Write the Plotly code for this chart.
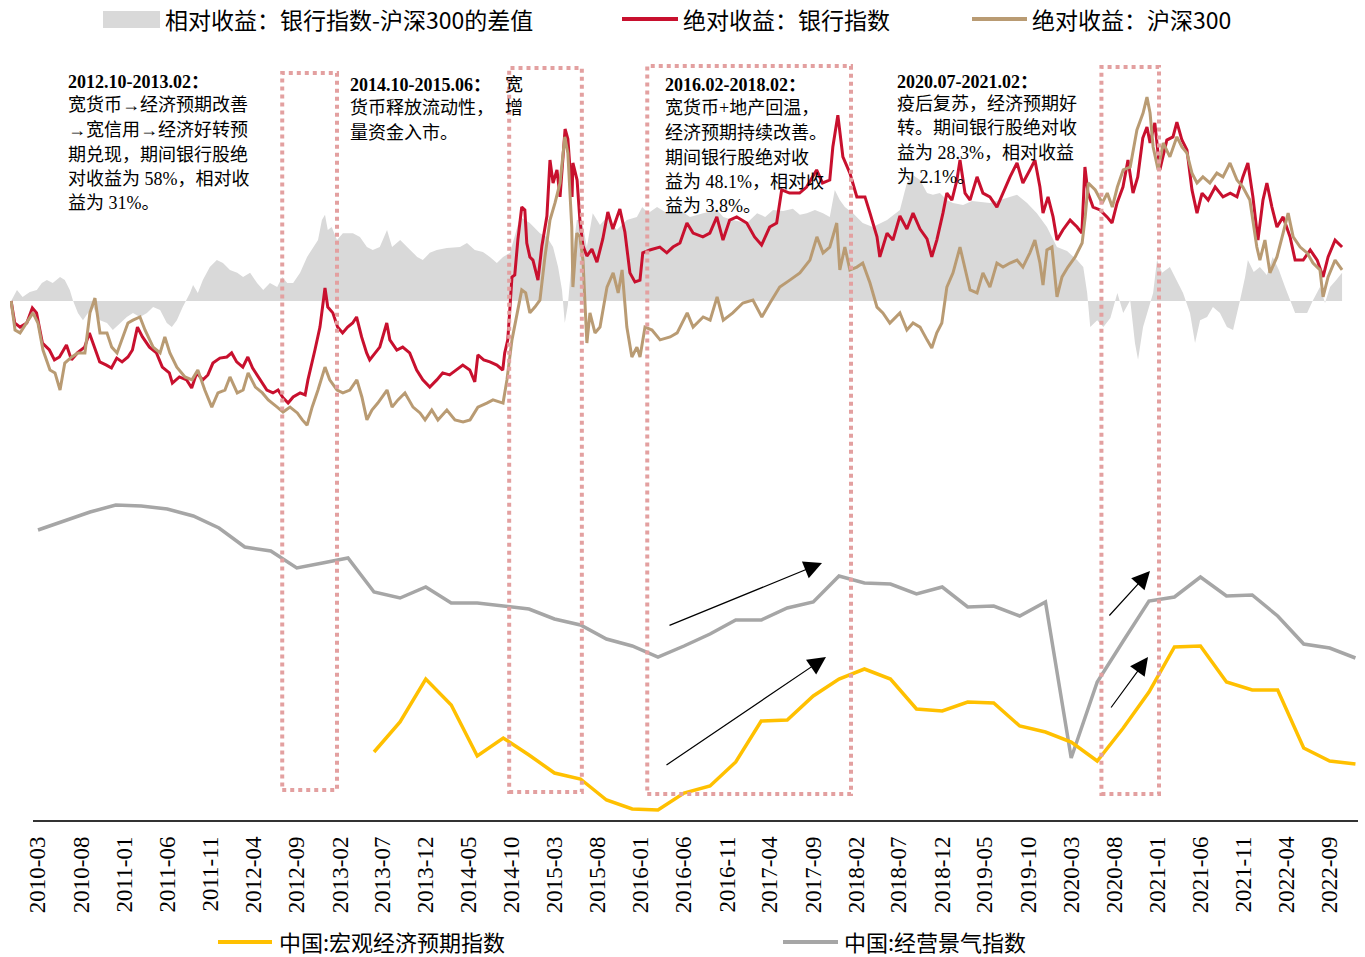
import plotly.graph_objects as go
import pandas as pd

# ---------------- daily cumulative returns (%) ----------------
bank_dates = ["2010-01-04","2010-01-17","2010-02-05","2010-03-01","2010-03-21","2010-04-05","2010-04-26","2010-05-21","2010-06-08","2010-06-26",
"2010-07-21","2010-08-08","2010-08-29","2010-09-24","2010-10-11","2010-10-29","2010-11-17","2010-12-11","2010-12-29","2011-01-17",
"2011-02-05","2011-02-26","2011-03-14","2011-04-01","2011-04-19","2011-05-14","2011-06-08","2011-06-29","2011-07-24","2011-08-04",
"2011-08-29","2011-09-24","2011-10-12","2011-10-30","2011-11-21","2011-12-09","2011-12-27","2012-01-21","2012-02-15","2012-03-03",
"2012-03-21","2012-04-12","2012-04-30","2012-05-17","2012-06-12","2012-07-07","2012-07-29","2012-08-16","2012-09-03","2012-09-21",
"2012-10-09","2012-11-03","2012-11-21","2012-12-01","2012-12-26","2013-01-13","2013-01-31","2013-02-10","2013-02-28","2013-03-17",
"2013-04-04","2013-04-22","2013-05-10","2013-05-24","2013-06-11","2013-06-29","2013-07-10","2013-07-28","2013-08-15","2013-09-09",
"2013-09-20","2013-10-15","2013-11-05","2013-11-30","2013-12-25","2014-01-16","2014-02-10","2014-03-07","2014-03-28","2014-04-22",
"2014-05-10","2014-06-08","2014-07-03","2014-07-21","2014-08-01","2014-08-22","2014-09-13","2014-10-08","2014-10-29","2014-11-05",
"2014-11-16","2014-12-01","2014-12-11","2014-12-22","2015-01-05","2015-01-16","2015-01-23","2015-02-03","2015-02-14","2015-03-04",
"2015-03-18","2015-04-05","2015-04-16","2015-04-27","2015-05-11","2015-05-22","2015-06-09","2015-06-19","2015-07-04","2015-07-07",
"2015-07-22","2015-08-01","2015-08-12","2015-08-26","2015-09-13","2015-10-01","2015-10-22","2015-11-09","2015-11-27","2015-12-22",
"2016-01-09","2016-01-27","2016-02-14","2016-03-03","2016-03-13","2016-04-07","2016-05-13","2016-06-07","2016-06-29","2016-07-24",
"2016-08-18","2016-09-09","2016-10-14","2016-11-08","2016-12-03","2016-12-25","2017-01-18","2017-02-12","2017-03-20","2017-04-17",
"2017-05-12","2017-06-10","2017-07-05","2017-07-23","2017-08-20","2017-09-25","2017-10-20","2017-11-25","2017-12-16","2018-01-11",
"2018-01-22","2018-02-09","2018-02-27","2018-03-24","2018-04-18","2018-05-17","2018-06-04","2018-06-29","2018-07-09","2018-08-04",
"2018-08-25","2018-09-19","2018-10-14","2018-11-05","2018-11-30","2018-12-25","2019-01-11","2019-01-29","2019-02-20","2019-03-06",
"2019-03-24","2019-04-11","2019-04-22","2019-05-10","2019-05-28","2019-06-22","2019-07-13","2019-08-07","2019-09-01","2019-09-23",
"2019-10-18","2019-11-12","2019-12-03","2019-12-28","2020-01-15","2020-02-02","2020-02-13","2020-03-02","2020-03-20","2020-04-03",
"2020-04-24","2020-05-20","2020-06-14","2020-07-01","2020-07-12","2020-07-23","2020-08-10","2020-09-04","2020-09-29","2020-10-17",
"2020-11-04","2020-11-25","2020-12-13","2020-12-31","2021-01-17","2021-02-04","2021-02-19","2021-03-02","2021-03-19","2021-04-06",
"2021-05-01","2021-05-23","2021-06-06","2021-06-24","2021-07-12","2021-07-30","2021-08-17","2021-09-04","2021-09-26","2021-10-21",
"2021-11-18","2021-12-14","2022-01-07","2022-01-28","2022-02-15","2022-03-05","2022-03-23","2022-04-10","2022-04-24","2022-05-12",
"2022-05-30","2022-06-21","2022-07-16","2022-08-03","2022-09-01","2022-09-26","2022-10-21","2022-11-11","2022-11-29","2022-12-24",
"2023-01-18"]
bank_ret = [0,-7.6,-9.0,-7.6,-2.4,-4.1,-14.5,-16.9,-20.3,-19.3,
-15.2,-20.3,-17.9,-15.9,-11.0,-15.9,-21.0,-22.1,-23.1,-19.7,
-21.0,-19.3,-16.9,-9.0,-12.4,-15.9,-17.9,-22.8,-24.8,-28.3,
-26.2,-27.2,-30.0,-24.8,-27.2,-25.5,-21.4,-19.7,-19.3,-17.9,
-21.0,-22.8,-19.3,-23.1,-27.2,-30.7,-31.7,-30.7,-33.4,-35.2,
-33.1,-31.7,-32.4,-27.2,-16.9,-9.0,4.5,-2.1,-4.1,-9.0,
-11.0,-9.0,-7.6,-5.5,-12.4,-17.9,-20.3,-17.9,-15.9,-7.6,
-13.4,-16.9,-15.9,-17.9,-23.8,-27.2,-29.7,-27.2,-24.8,-25.5,
-24.1,-22.1,-23.8,-27.9,-18.6,-20.3,-21.0,-22.1,-23.8,-17.9,
-13.4,8.3,9.0,21.0,32.4,31.4,20.0,15.2,14.1,7.2,
19.0,29.3,48.6,40.7,45.2,35.9,59.3,55.9,35.9,47.6,
41.7,27.9,19.0,15.5,17.9,13.4,21.4,30.7,24.8,31.7,
23.8,9.7,6.6,7.2,16.6,17.6,18.6,16.6,18.6,20.0,
26.9,23.4,22.1,23.4,29.0,21.0,27.9,29.0,26.9,22.1,
19.3,25.5,26.9,38.3,37.2,37.2,39.3,45.2,40.7,41.7,
53.1,64.1,49.7,44.1,35.9,35.9,30.3,22.1,15.2,23.4,
21.0,29.3,24.8,30.3,24.8,21.4,15.2,21.0,30.3,37.2,
34.8,41.7,48.6,37.2,34.8,42.8,37.2,35.9,32.4,37.2,
42.8,47.6,40.7,45.2,48.6,39.3,30.3,35.9,29.0,21.0,
24.5,27.9,25.5,23.4,46.2,37.2,32.4,31.4,29.0,26.9,
33.8,39.3,48.6,37.2,42.8,56.2,60.0,54.5,61.4,45.2,
55.5,56.6,61.7,55.5,52.1,38.3,30.3,37.2,34.8,39.3,
35.9,37.2,35.9,42.8,47.6,35.9,21.0,34.8,40.7,32.4,
25.5,29.0,22.1,14.1,14.1,17.6,14.1,8.3,15.2,21.0,
18.6]

hs300_dates = ["2010-01-04","2010-01-18","2010-02-05","2010-03-01","2010-03-23","2010-04-10","2010-04-28","2010-05-23","2010-06-10","2010-06-28",
"2010-07-15","2010-08-09","2010-08-31","2010-09-25","2010-10-13","2010-10-31","2010-11-18","2010-12-13","2010-12-30","2011-01-18",
"2011-02-08","2011-02-26","2011-03-16","2011-04-10","2011-04-28","2011-05-27","2011-06-21","2011-07-08","2011-07-26","2011-08-20",
"2011-09-18","2011-10-13","2011-11-03","2011-11-28","2011-12-23","2012-01-14","2012-02-08","2012-02-26","2012-03-23","2012-04-13",
"2012-05-01","2012-05-27","2012-06-21","2012-07-12","2012-08-13","2012-09-03","2012-09-28","2012-10-24","2012-11-11","2012-11-28",
"2012-12-16","2013-01-06","2013-01-31","2013-02-17","2013-03-15","2013-04-05","2013-04-30","2013-05-25","2013-06-12","2013-06-30",
"2013-07-18","2013-08-08","2013-09-10","2013-09-28","2013-10-19","2013-11-13","2013-12-12","2014-01-06","2014-01-24","2014-02-17",
"2014-03-11","2014-04-12","2014-05-11","2014-06-09","2014-07-04","2014-08-01","2014-09-02","2014-09-24","2014-10-30","2014-11-13",
"2014-12-01","2014-12-19","2015-01-05","2015-01-19","2015-02-03","2015-02-21","2015-03-11","2015-03-29","2015-04-16","2015-05-04",
"2015-05-22","2015-06-08","2015-06-19","2015-07-03","2015-07-07","2015-07-21","2015-08-01","2015-08-12","2015-08-26","2015-09-06",
"2015-09-24","2015-10-12","2015-11-06","2015-11-28","2015-12-16","2015-12-30","2016-01-16","2016-02-03","2016-02-21","2016-03-03",
"2016-03-21","2016-04-15","2016-05-14","2016-06-19","2016-07-14","2016-08-19","2016-09-09","2016-10-15","2016-11-09","2016-12-04",
"2016-12-26","2017-01-29","2017-03-06","2017-04-11","2017-05-13","2017-06-11","2017-07-16","2017-08-21","2017-09-26","2017-11-01",
"2017-11-26","2017-12-18","2018-01-11","2018-02-05","2018-02-16","2018-03-06","2018-03-24","2018-04-18","2018-05-09","2018-06-04",
"2018-06-29","2018-07-20","2018-08-14","2018-09-19","2018-10-14","2018-11-05","2018-11-30","2018-12-25","2019-01-11","2019-01-29",
"2019-02-16","2019-03-06","2019-03-28","2019-04-22","2019-05-10","2019-05-28","2019-06-22","2019-07-13","2019-08-07","2019-09-01",
"2019-09-23","2019-10-18","2019-11-12","2019-12-03","2019-12-28","2020-01-15","2020-02-02","2020-02-13","2020-02-27","2020-03-16",
"2020-04-03","2020-04-21","2020-05-12","2020-06-07","2020-07-02","2020-07-13","2020-07-24","2020-08-18","2020-09-12","2020-09-30",
"2020-10-18","2020-11-05","2020-11-26","2020-12-21","2021-01-14","2021-02-05","2021-02-19","2021-03-02","2021-03-13","2021-03-31",
"2021-04-18","2021-05-12","2021-06-06","2021-06-24","2021-07-12","2021-07-30","2021-08-17","2021-09-07","2021-10-02","2021-10-27",
"2021-11-18","2021-12-13","2022-01-07","2022-01-28","2022-02-22","2022-03-19","2022-03-30","2022-04-17","2022-05-05","2022-05-30",
"2022-06-21","2022-07-09","2022-07-27","2022-08-21","2022-09-15","2022-10-06","2022-10-31","2022-11-11","2022-11-29","2022-12-24",
"2023-01-18"]
hs300_ret = [0,-10.0,-11.0,-7.6,-4.1,-7.6,-16.9,-23.8,-24.8,-30.7,
-21.4,-19.3,-17.9,-17.9,-4.1,1.0,-11.0,-11.0,-15.9,-17.9,
-12.4,-7.6,-6.6,-5.5,-10.0,-15.9,-17.9,-12.4,-17.9,-22.8,
-26.2,-27.2,-23.8,-30.7,-36.6,-31.7,-30.7,-26.2,-31.7,-30.7,
-24.8,-29.7,-31.7,-34.1,-36.6,-38.3,-36.6,-38.6,-41.0,-42.8,
-36.6,-30.7,-22.8,-27.2,-30.7,-31.7,-30.7,-27.2,-33.1,-41.0,
-37.6,-35.2,-30.7,-36.6,-34.1,-31.7,-36.6,-38.6,-41.0,-37.6,
-41.0,-37.6,-41.0,-41.7,-41.0,-36.6,-35.2,-34.1,-35.2,-27.2,
-13.4,-4.1,3.8,2.8,-4.1,-2.1,0.3,15.2,27.9,33.8,
40.7,56.6,51.0,25.5,4.8,23.4,22.1,14.1,-14.5,-4.1,
-11.0,-9.0,4.8,9.7,2.8,10.7,-9.0,-19.3,-15.9,-19.3,
-9.0,-10.0,-13.4,-12.4,-11.0,-4.1,-9.0,-5.5,-6.6,1.4,
-6.6,-4.1,-0.7,0.3,-5.5,-0.7,4.8,7.2,9.7,14.1,
22.1,16.6,18.6,26.9,10.7,18.6,10.7,11.7,13.1,6.2,
-2.1,-4.1,-7.6,-4.1,-10.0,-7.6,-9.0,-13.4,-16.2,-11.0,
-7.6,4.8,9.7,18.6,11.7,3.8,2.8,9.7,4.8,13.1,
11.7,13.1,14.1,11.7,16.6,21.0,13.1,5.5,17.6,18.6,
1.4,8.3,11.7,15.2,20.0,29.0,40.7,38.3,33.8,37.2,
32.4,39.3,45.2,46.2,59.0,64.8,70.3,64.8,53.1,45.2,
54.5,49.7,56.6,53.1,51.0,44.1,40.7,42.8,40.7,44.1,
42.8,47.6,41.7,39.3,34.8,18.6,14.1,21.0,9.7,15.2,
23.4,30.3,22.1,18.6,16.6,13.1,10.7,1.4,8.3,14.1,
10.7]

rel_dates = ["2010-01-04","2010-01-25","2010-02-14","2010-03-12","2010-04-06","2010-04-24","2010-05-12","2010-06-02","2010-06-28","2010-07-15",
"2010-08-02","2010-08-13","2010-08-31","2010-09-18","2010-10-06","2010-10-24","2010-11-18","2010-12-13","2011-01-03","2011-01-28",
"2011-02-22","2011-03-16","2011-04-10","2011-05-05","2011-05-27","2011-06-21","2011-07-15","2011-08-02","2011-08-20","2011-09-10",
"2011-10-06","2011-10-17","2011-11-03","2011-11-21","2011-12-16","2012-01-10","2012-02-01","2012-02-26","2012-03-23","2012-04-13",
"2012-05-08","2012-06-02","2012-06-24","2012-07-18","2012-08-13","2012-08-31","2012-09-18","2012-10-09","2012-11-03","2012-11-28",
"2012-12-20","2013-01-06","2013-01-20","2013-01-31","2013-02-10","2013-02-24","2013-03-15","2013-04-05","2013-05-11","2013-06-05",
"2013-06-30","2013-07-21","2013-08-15","2013-09-10","2013-09-28","2013-10-27","2013-11-21","2013-12-27","2014-01-16","2014-02-10",
"2014-03-07","2014-04-12","2014-05-29","2014-06-23","2014-07-21","2014-08-19","2014-09-13","2014-10-08","2014-10-30","2014-11-24",
"2014-12-12","2014-12-30","2015-02-03","2015-03-11","2015-04-05","2015-04-27","2015-05-15","2015-05-29","2015-06-08","2015-06-19",
"2015-07-03","2015-07-21","2015-08-08","2015-08-26","2015-09-16","2015-10-12","2015-11-06","2015-12-11","2016-01-16","2016-02-21",
"2016-03-11","2016-04-01","2016-05-03","2016-06-08","2016-07-24","2016-08-29","2016-10-15","2016-12-04","2016-12-26","2017-01-29",
"2017-03-21","2017-04-26","2017-05-25","2017-06-22","2017-07-28","2017-09-01","2017-09-26","2017-10-21","2017-11-19","2017-12-18",
"2018-01-11","2018-01-29","2018-02-16","2018-03-06","2018-04-04","2018-05-09","2018-06-14","2018-08-04","2018-09-19","2018-10-14",
"2018-11-05","2018-11-30","2018-12-25","2019-01-15","2019-02-09","2019-03-06","2019-03-28","2019-05-03","2019-06-04","2019-07-03",
"2019-08-07","2019-09-12","2019-10-18","2019-11-12","2019-12-18","2020-01-22","2020-02-27","2020-04-03","2020-05-09","2020-06-14",
"2020-07-06","2020-07-20","2020-07-31","2020-08-25","2020-09-16","2020-10-11","2020-11-05","2020-11-26","2020-12-21","2021-01-07",
"2021-01-18","2021-02-05","2021-02-23","2021-03-13","2021-03-27","2021-04-14","2021-05-12","2021-06-06","2021-06-28","2021-07-23",
"2021-08-10","2021-08-28","2021-09-22","2021-10-13","2021-11-07","2021-12-02","2021-12-24","2022-01-18","2022-02-05","2022-02-15",
"2022-03-08","2022-03-30","2022-04-24","2022-05-15","2022-06-06","2022-06-28","2022-07-16","2022-08-03","2022-08-24","2022-09-15",
"2022-10-06","2022-10-31","2022-11-18","2022-12-06","2022-12-28","2023-01-18"]
rel_ret = [0,3.8,1.4,3.1,3.8,6.2,7.2,6.2,8.3,7.2,
3.8,0.3,-4.1,-6.6,-4.1,-2.1,-6.6,-7.6,-10.0,-7.6,
-5.5,-4.1,-5.5,-4.1,-2.1,-3.1,-7.6,-9.0,-6.6,-2.1,
2.8,5.5,2.8,7.2,11.7,14.1,13.1,10.7,9.7,8.3,
9.7,6.2,3.8,6.2,4.8,8.3,6.2,6.2,9.7,15.2,
18.6,21.0,27.9,29.7,24.5,25.5,21.0,23.4,23.4,22.1,
18.6,17.6,18.6,24.5,18.6,21.0,18.6,15.2,14.1,16.6,
17.6,18.3,18.6,20.0,17.6,16.9,15.2,13.1,15.2,16.6,
22.8,29.0,26.9,23.4,22.1,18.6,11.7,3.8,-7.6,-1.4,
14.1,27.9,27.9,18.6,30.3,26.2,29.0,24.5,27.9,29.0,
32.4,30.3,32.4,30.3,31.4,29.0,30.3,31.4,29.0,27.9,
26.9,30.3,29.0,31.4,31.0,31.8,29.7,30.3,31.4,30.3,
29.0,38.3,34.8,32.4,30.3,26.9,25.5,27.9,31.4,40.7,
43.4,41.7,37.2,36.6,37.2,34.8,33.8,33.1,34.5,34.1,
33.8,34.8,35.9,36.6,33.8,30.3,25.5,18.6,17.2,14.1,
11.7,2.8,-9.0,-6.6,-9.0,-5.9,2.8,-4.1,0.3,-14.5,
-20.3,-9.0,-3.1,2.8,14.1,9.7,11.7,7.2,2.8,-4.1,
-14.5,-6.6,-5.5,-2.1,-4.1,-9.0,-10.0,0.3,8.3,14.1,
10.0,11.7,9.0,15.2,10.7,4.8,0.3,-4.1,-4.1,-4.1,
0.3,4.8,-0.7,4.8,7.2,9.7]

# ---------------- quarterly indices ----------------
climate_start = "2010-03-01"
climate_idx = [135.0,136.8,138.6,140.0, 139.8,139.2,137.8,135.4, 131.6,130.8,127.4,128.4,
               129.4,122.6,121.4,123.6, 120.4,120.4,119.8,119.2, 117.2,116.0,113.2,111.8,
               109.6,111.8,114.2,117.0, 117.0,119.4,120.6,125.8, 124.4,124.2,122.2,123.6,
               119.6,119.8,117.8,120.6, 89.4,104.6,112.8,120.8, 121.6,125.6,121.8,122.0,
               117.8,112.2,111.4,109.4]
expect_start = "2013-06-01"
expect_idx = [99.4,102.4,106.7, 104.1,99.0,100.8,99.1, 97.3,96.7,94.6,93.7,
              93.6,95.3,96.0,98.4, 102.5,102.6,105.0,106.7, 107.7,106.7,103.7,103.5,
              104.4,104.3,102.0,101.4, 100.4,98.5,101.8,105.4, 109.9,110.0,106.4,105.6,
              105.6,99.8,98.5,98.2]

tick_labels = ["2010-03","2010-08","2011-01","2011-06","2011-11","2012-04","2012-09","2013-02",
               "2013-07","2013-12","2014-05","2014-10","2015-03","2015-08","2016-01","2016-06",
               "2016-11","2017-04","2017-09","2018-02","2018-07","2018-12","2019-05","2019-10",
               "2020-03","2020-08","2021-01","2021-06","2021-11","2022-04","2022-09"]

# highlighted periods (top, daily axis)
periods = [("2012-08-31", "2013-03-15"), ("2014-11-21", "2015-08-08"),
           ("2016-03-29", "2018-03-28"), ("2020-09-09", "2021-04-03")]

# ---------------- geometry ----------------
W, H = 1365, 957
ML, MR, MT, MB = 10, 7, 45, 136
PW, PH = W - ML - MR, H - MT - MB
BOT = H - MB


def px(x):
    return (x - ML) / PW


def py(y):
    return (BOT - y) / PH


ZERO_PX, PX_PER_PCT = 301, 2.9
top_range = [(ZERO_PX - BOT) / PX_PER_PCT, (ZERO_PX - MT) / PX_PER_PCT]
clim_range = [140 - (BOT - 505) * 0.2, 140 + (505 - MT) * 0.2]
exp_range = [110 - (BOT - 646) * 0.1, 110 + (646 - MT) * 0.1]

RED = "#C8102E"
TAN = "#B99B73"
GREYFILL = "#D9D9D9"
GREYLINE = "#A6A6A6"
YELLOW = "#FFC000"
BOX = "#E3A0A0"
SERIF = "Liberation Serif, Noto Sans CJK SC, serif"
CJK = "Noto Sans CJK SC, sans-serif"

climate_dates = pd.date_range(climate_start, periods=len(climate_idx), freq="3MS").strftime("%Y-%m-%d").tolist()
expect_dates = pd.date_range(expect_start, periods=len(expect_idx), freq="3MS").strftime("%Y-%m-%d").tolist()
tick_vals = pd.to_datetime(tick_labels, format="%Y-%m").strftime("%Y-%m-%d").tolist()

fig = go.Figure()
# bottom (quarterly) series on the base x axis
fig.add_trace(go.Scatter(x=climate_dates, y=climate_idx, xaxis="x", yaxis="y", mode="lines",
                         line=dict(color=GREYLINE, width=3.5), name="中国:经营景气指数", showlegend=False))
fig.add_trace(go.Scatter(x=expect_dates, y=expect_idx, xaxis="x", yaxis="y3", mode="lines",
                         line=dict(color=YELLOW, width=3.5), name="中国:宏观经济预期指数", showlegend=False))
# top (daily) series on the overlaid x2 / y2 axes
fig.add_trace(go.Scatter(x=rel_dates, y=rel_ret, xaxis="x2", yaxis="y2", mode="lines",
                         fill="tozeroy", fillcolor=GREYFILL, line=dict(width=0, color=GREYFILL),
                         name="相对收益：银行指数-沪深300的差值", showlegend=False, hoverinfo="skip"))
fig.add_trace(go.Scatter(x=bank_dates, y=bank_ret, xaxis="x2", yaxis="y2", mode="lines",
                         line=dict(color=RED, width=3), name="绝对收益：银行指数", showlegend=False))
fig.add_trace(go.Scatter(x=hs300_dates, y=hs300_ret, xaxis="x2", yaxis="y2", mode="lines",
                         line=dict(color=TAN, width=3), name="绝对收益：沪深300", showlegend=False))

shapes = []
box_tops = [73, 68, 66, 67]
box_bots = [790, 792, 794, 794]
for (a, b), t, bt in zip(periods, box_tops, box_bots):
    shapes.append(dict(type="rect", xref="x2", yref="paper", x0=a, x1=b, y0=py(bt), y1=py(t),
                       line=dict(color=BOX, width=4, dash="dot"), fillcolor="rgba(0,0,0,0)", layer="above"))
# x axis baseline
shapes.append(dict(type="line", xref="paper", yref="paper", x0=px(33), x1=1, y0=0, y1=0,
                   line=dict(color="#333333", width=2)))
# legend swatches
shapes.append(dict(type="rect", xref="paper", yref="paper", x0=px(103), x1=px(160), y0=py(28), y1=py(11),
                   fillcolor=GREYFILL, line=dict(width=0)))
shapes.append(dict(type="line", xref="paper", yref="paper", x0=px(622), x1=px(678), y0=py(19), y1=py(19),
                   line=dict(color=RED, width=4)))
shapes.append(dict(type="line", xref="paper", yref="paper", x0=px(972), x1=px(1027), y0=py(19), y1=py(19),
                   line=dict(color=TAN, width=4)))
shapes.append(dict(type="line", xref="paper", yref="paper", x0=px(218), x1=px(272), y0=py(942), y1=py(942),
                   line=dict(color=YELLOW, width=4)))
shapes.append(dict(type="line", xref="paper", yref="paper", x0=px(783), x1=px(838), y0=py(942), y1=py(942),
                   line=dict(color=GREYLINE, width=4)))

annotations = []


def txt(x, y, s, size=18, family=SERIF):
    annotations.append(dict(xref="paper", yref="paper", x=px(x), y=py(y), text=s, showarrow=False,
                            xanchor="left", yanchor="middle", font=dict(family=family, size=size, color="black")))


# legends
txt(163, 19, "相对收益：银行指数-沪深300的差值", 23, CJK)
txt(681, 19, "绝对收益：银行指数", 23, CJK)
txt(1030, 19, "绝对收益：沪深300", 23, CJK)
txt(277, 941, "中国:宏观经济预期指数", 22, CJK)
txt(842, 941, "中国:经营景气指数", 22, CJK)

notes = [
    (66, [(82, "<b>2012.10-2013.02：</b>"), (105, "宽货币→经济预期改善"), (130, "→宽信用→经济好转预"),
          (155, "期兑现，期间银行股绝"), (179, "对收益为 58%，相对收"), (203, "益为 31%。")]),
    (348, [(85, "<b>2014.10-2015.06：</b>"), (108, "货币释放流动性，"), (133, "量资金入市。")]),
    (663, [(85, "<b>2016.02-2018.02：</b>"), (108, "宽货币+地产回温，"), (133, "经济预期持续改善。"),
           (158, "期间银行股绝对收"), (182, "益为 48.1%，相对收"), (206, "益为 3.8%。")]),
    (895, [(82, "<b>2020.07-2021.02：</b>"), (104, "疫后复苏，经济预期好"), (128, "转。期间银行股绝对收"),
           (153, "益为 28.3%，相对收益"), (177, "为 2.1%。")]),
]
for x0, lines in notes:
    for yy, s in lines:
        txt(x0, yy, s)
txt(503, 85, "宽")
txt(503, 108, "增")

# arrows (tip, tail)
arrows = [((822, 563), (668, 626)), ((826, 657), (665, 766)),
          ((1150, 571), (1108, 617)), ((1148, 657), (1110, 709))]
for (tx, ty), (sx, sy) in arrows:
    annotations.append(dict(xref="paper", yref="paper", x=px(tx), y=py(ty), ax=sx - tx, ay=sy - ty,
                            axref="pixel", ayref="pixel", text="", showarrow=True, arrowhead=2,
                            arrowsize=3, arrowwidth=1.2, arrowcolor="black", standoff=0, startstandoff=0))

fig.update_layout(
    width=W, height=H, margin=dict(l=ML, r=MR, t=MT, b=MB),
    paper_bgcolor="white", plot_bgcolor="white", showlegend=False,
    xaxis=dict(type="date", range=["2009-11-22", "2022-12-10"], tickmode="array", tickvals=tick_vals,
               ticktext=tick_labels, tickangle=-90, ticks="", showgrid=False, zeroline=False, showline=False,
               tickfont=dict(family="Liberation Serif, serif", size=23, color="black"), ticklabelstandoff=10),
    xaxis2=dict(type="date", range=["2009-12-31", "2023-03-16"], overlaying="x", anchor="y2", visible=False),
    yaxis=dict(range=clim_range, visible=False),
    yaxis2=dict(range=top_range, overlaying="y", anchor="x2", visible=False),
    yaxis3=dict(range=exp_range, overlaying="y", visible=False),
    shapes=shapes, annotations=annotations,
)

fig.write_html("out.html", config={"displayModeBar": False},
               post_script="document.body.style.margin='0px';document.body.style.overflow='hidden';")
